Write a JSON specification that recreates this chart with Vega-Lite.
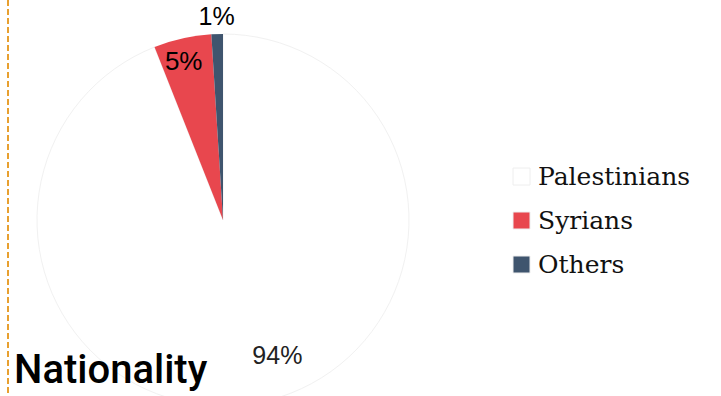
{
  "$schema": "https://vega.github.io/schema/vega-lite/v6.json",
  "width": 430,
  "height": 440,
  "autosize": {"type": "none"},
  "padding": {"left": 8, "top": 0, "right": 283, "bottom": 0},
  "background": "white",
  "config": {"view": {"stroke": null}},
  "title": {
    "text": "Nationality",
    "orient": "bottom",
    "anchor": "start",
    "frame": "group",
    "font": "Roboto",
    "fontSize": 40,
    "fontWeight": 500,
    "color": "#000000",
    "baseline": "alphabetic",
    "dx": 6,
    "dy": -62
  },
  "data": {
    "values": [
      {"nationality": "Palestinians", "share": 94, "label": "94%"},
      {"nationality": "Syrians", "share": 5, "label": "5%"},
      {"nationality": "Others", "share": 1, "label": "1%"}
    ]
  },
  "layer": [
    {
      "mark": {"type": "rule", "stroke": "#E8A030", "strokeWidth": 2, "strokeDash": [6, 3]},
      "encoding": {"x": {"value": 0}}
    },
    {
      "mark": {"type": "arc", "radius": 186, "strokeWidth": 1},
      "encoding": {
        "theta": {"field": "share", "type": "quantitative", "stack": true},
        "order": {"field": "share", "sort": "descending"},
        "stroke": {
          "condition": {"test": "datum.nationality === 'Palestinians'", "value": "#f1f1f1"},
          "value": null
        },
        "color": {
          "field": "nationality",
          "type": "nominal",
          "scale": {
            "domain": ["Palestinians", "Syrians", "Others"],
            "range": ["#ffffff", "#E8474E", "#3F556E"]
          },
          "legend": {
            "title": null,
            "orient": "none",
            "legendX": 501,
            "legendY": 164,
            "symbolType": "square",
            "symbolSize": 289,
            "symbolStrokeColor": "#eeeeee",
            "symbolStrokeWidth": 1,
            "symbolOpacity": 1,
            "labelFont": "DejaVu Serif",
            "labelFontSize": 25,
            "labelColor": "#111111",
            "labelOffset": 4,
            "labelLimit": 300,
            "rowPadding": 18
          }
        }
      }
    },
    {
      "mark": {"type": "text", "radius": 203, "font": "Liberation Sans", "fontSize": 25, "color": "#000000"},
      "encoding": {
        "theta": {"field": "share", "type": "quantitative", "stack": true},
        "order": {"field": "share", "sort": "descending"},
        "text": {"condition": {"test": "datum.nationality === 'Others'", "field": "label"}, "value": ""}
      }
    },
    {
      "mark": {"type": "text", "radius": 162, "dx": -4, "font": "Liberation Sans", "fontSize": 26, "color": "#000000"},
      "encoding": {
        "theta": {"field": "share", "type": "quantitative", "stack": true},
        "order": {"field": "share", "sort": "descending"},
        "text": {"condition": {"test": "datum.nationality === 'Syrians'", "field": "label"}, "value": ""}
      }
    },
    {
      "mark": {"type": "text", "radius": 146, "dx": 27, "dy": -7, "font": "Liberation Sans", "fontSize": 25, "color": "#222222"},
      "encoding": {
        "theta": {"field": "share", "type": "quantitative", "stack": true},
        "order": {"field": "share", "sort": "descending"},
        "text": {"condition": {"test": "datum.nationality === 'Palestinians'", "field": "label"}, "value": ""}
      }
    }
  ]
}
